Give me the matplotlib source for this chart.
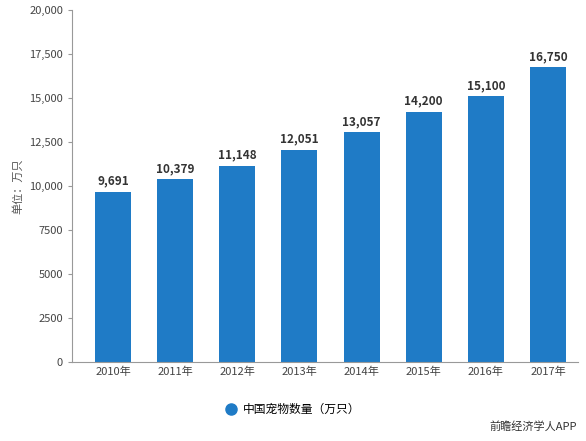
import matplotlib
matplotlib.use("Agg")
import matplotlib.pyplot as plt
from matplotlib.lines import Line2D

plt.rcParams['font.family'] = ['Noto Sans CJK SC', 'DejaVu Sans']

years = ["2010年", "2011年", "2012年", "2013年", "2014年", "2015年", "2016年", "2017年"]
values = [9691, 10379, 11148, 12051, 13057, 14200, 15100, 16750]
yticks = [0, 2500, 5000, 7500, 10000, 12500, 15000, 17500, 20000]
ytick_labels = ["0", "2500", "5000", "7500", "10,000", "12,500", "15,000", "17,500", "20,000"]
color = "#1f7bc6"

fig = plt.figure(figsize=(5.86, 4.41), dpi=100)
ax = fig.add_axes([0.123, 0.179, 0.863, 0.798])
ax.bar(range(len(years)), values, width=0.58, color=color)
for i, v in enumerate(values):
    ax.text(i, v + 250, f"{v:,}", ha="center", va="bottom", fontsize=8.5, fontweight="bold", color="#333333")
ax.set_ylim(0, 20000)
ax.set_xlim(-0.66, len(years) - 0.52)
ax.set_yticks(yticks)
ax.set_yticklabels(ytick_labels, fontsize=8, color="#444444")
ax.set_xticks(range(len(years)))
ax.set_xticklabels(years, fontsize=8, color="#444444")
ax.set_ylabel("单位：万只", fontsize=8, color="#555555")
for s in ["top", "right"]:
    ax.spines[s].set_visible(False)
ax.spines["left"].set_color("#999999")
ax.spines["bottom"].set_color("#999999")
ax.tick_params(axis="x", length=0)
ax.tick_params(axis="y", length=3, color="#999999")
h = Line2D([], [], marker="o", linestyle="none", markersize=8, color=color)
fig.legend(handles=[h], labels=["中国宠物数量（万只）"], loc="center", bbox_to_anchor=(0.5, 0.072),
           frameon=False, fontsize=8.5, handlelength=0.9, handletextpad=0.6)
fig.text(0.985, 0.02, "前瞻经济学人APP", ha="right", va="bottom", fontsize=8, color="#333333")
fig.savefig("out.png", dpi=100)
